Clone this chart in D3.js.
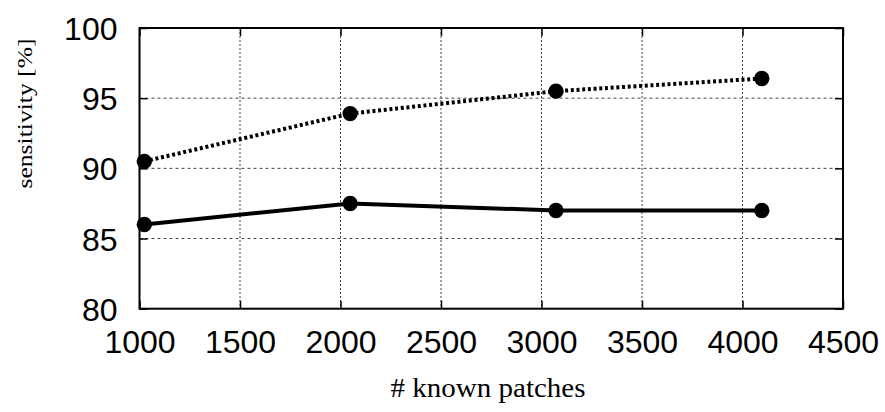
<!DOCTYPE html>
<html><head><meta charset="utf-8">
<script src="https://cdn.jsdelivr.net/npm/d3@7"></script>
<style>body{margin:0;background:#fff;} svg{display:block;}</style>
</head><body>
<svg id="c" width="885" height="412"></svg>
<script>
const patches = [1024, 2048, 3072, 4096];
const solidSeries = [86.0, 87.5, 87.0, 87.0];
const dottedSeries = [90.5, 93.9, 95.5, 96.4];
const xTicks = [1000, 1500, 2000, 2500, 3000, 3500, 4000, 4500];
const yTicks = [80, 85, 90, 95, 100];
const xTitle = "# known patches";
const yTitle = "sensitivity [%]";

const svg = d3.select("#c");
const L = 139.5, R = 843, T = 28, B = 308.7;
const x = d3.scaleLinear().domain([1000, 4500]).range([L, R]);
const y = d3.scaleLinear().domain([80, 100]).range([B, T]);

// grid
const g = svg.append("g");
g.selectAll(".gx").data(xTicks.slice(1, -1)).join("line")
  .attr("x1", d => x(d)).attr("x2", d => x(d)).attr("y1", T).attr("y2", B)
  .attr("stroke", "#444").attr("stroke-width", 1).attr("stroke-dasharray", "2,2");
g.selectAll(".gy").data(yTicks.slice(1, -1)).join("line")
  .attr("x1", L).attr("x2", R).attr("y1", d => y(d)).attr("y2", d => y(d))
  .attr("stroke", "#444").attr("stroke-width", 1).attr("stroke-dasharray", "3,3");

// axes with inward ticks
const font = "'Liberation Sans', Arial, sans-serif";
const ax = svg.append("g").attr("transform", `translate(0,${B})`)
  .call(d3.axisBottom(x).tickValues(xTicks).tickSize(-8).tickPadding(22).tickFormat(d3.format("d")));
const ay = svg.append("g").attr("transform", `translate(${L},0)`)
  .call(d3.axisLeft(y).tickValues(yTicks).tickSize(-8).tickPadding(22).tickFormat(d3.format("d")));
const axT = svg.append("g").attr("transform", `translate(0,${T})`)
  .call(d3.axisTop(x).tickValues(xTicks).tickSize(-8).tickFormat(""));
const ayR = svg.append("g").attr("transform", `translate(${R},0)`)
  .call(d3.axisRight(y).tickValues(yTicks).tickSize(-8).tickFormat(""));
[ax, ay, axT, ayR].forEach(a => {
  a.select(".domain").remove();
  a.selectAll(".tick line").attr("stroke", "#000").attr("stroke-width", 1.5);
  a.selectAll("text").attr("font-family", font).attr("font-size", 32).attr("fill", "#000");
});
ax.selectAll("text").attr("dy", "0.71em");
ay.selectAll("text").attr("dy", "0.36em");

svg.append("rect").attr("x", L).attr("y", T).attr("width", R - L).attr("height", B - T)
  .attr("fill", "none").attr("stroke", "#000").attr("stroke-width", 2);

// lines
const line = d3.line().x((d, i) => x(patches[i])).y(d => y(d));
svg.append("path").datum(dottedSeries).attr("d", line).attr("fill", "none")
  .attr("stroke", "#000").attr("stroke-width", 4).attr("stroke-dasharray", "3,2.7");
svg.append("path").datum(solidSeries).attr("d", line).attr("fill", "none")
  .attr("stroke", "#000").attr("stroke-width", 4);

[dottedSeries, solidSeries].forEach(s => {
  svg.append("g").selectAll("circle").data(s).join("circle")
    .attr("cx", (d, i) => x(patches[i])).attr("cy", d => y(d)).attr("r", 7.7).attr("fill", "#000");
});

// titles
const serif = "'Liberation Serif','Times New Roman',serif";
svg.append("text").attr("x", 488).attr("y", 397).attr("text-anchor", "middle")
  .attr("font-family", serif).attr("font-size", 27)
  .attr("textLength", 195).attr("lengthAdjust", "spacingAndGlyphs").text(xTitle);
svg.append("text").attr("transform", "translate(31.5,113.5) rotate(-90)").attr("text-anchor", "middle")
  .attr("font-family", serif).attr("font-size", 22)
  .attr("textLength", 150).attr("lengthAdjust", "spacingAndGlyphs").text(yTitle);
</script>
</body></html>
